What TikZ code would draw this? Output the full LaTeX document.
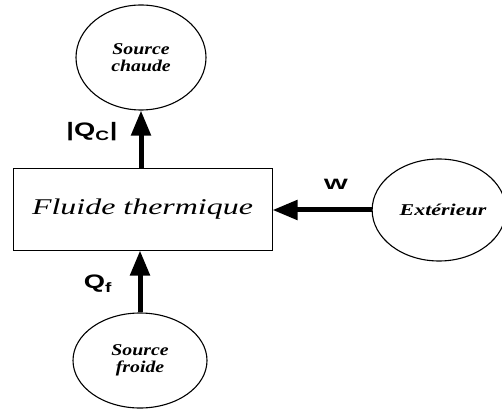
\documentclass[tikz,border=0pt]{standalone}
\usepackage{fontspec}
\usepackage{graphicx}
\setmainfont{Liberation Serif}
\newfontfamily\labelfont{Liberation Sans}
\usetikzlibrary{shapes.geometric,arrows.meta}

\tikzset{
  reservoir/.style={draw, line width=1.1pt, ellipse, inner sep=0pt,
    font=\bfseries\itshape\fontsize{16.5}{17.5}\selectfont, align=center},
  fluidbox/.style={draw, line width=1pt, rectangle, inner sep=0pt,
    minimum width=259pt, minimum height=81pt},
  flow/.style={line width=5pt, -{Triangle[length=25pt, width=19pt]}},
  qlabel/.style={font=\labelfont\bfseries\fontsize{19.5}{20}\selectfont}
}

\begin{document}
\begin{tikzpicture}[x=1pt, y=-1pt]
  \useasboundingbox (0,0) rectangle (502,411);

  % the engine's working fluid
  \node[fluidbox] (fluide) at (142.5,209.5)
    {\scalebox{1.42}[1]{\itshape\fontsize{22.5}{24}\selectfont Fluide thermique}};

  % reservoirs and the surroundings
  \node[reservoir, minimum width=130pt, minimum height=105pt] (chaude) at (141,57.5)
    {\scalebox{1.2}[1]{Source}\\\scalebox{1.2}[1]{chaude}};
  \node[reservoir, minimum width=134pt, minimum height=95pt] (froide) at (140,360.5)
    {\scalebox{1.2}[1]{Source}\\\scalebox{1.2}[1]{froide}};
  \node[reservoir, minimum width=128pt, minimum height=102pt] (ext) at (439,210)
    {\hspace*{8pt}\scalebox{1.33}[1]{Extérieur}};

  % heat and work exchanges
  \draw[flow] (fluide.north -| chaude.south) -- (chaude.south);
  \draw[flow] (froide.north) -- (fluide.south -| froide.north);
  \draw[flow] (ext.west) -- (fluide.east |- ext.west);

  % exchange labels
  \node[qlabel] (qc) at (92,132) {\scalebox{1.4}[1]{|Q\textsubscript{C}|}};
  \node[qlabel] (qf) at (98,284) {\scalebox{1.4}[1]{Q\textsubscript{f}}};
  \node[qlabel, font=\labelfont\bfseries\fontsize{15}{16}\selectfont] (w) at (336,184)
    {\scalebox{1.7}[1]{W}};
\end{tikzpicture}
\end{document}
